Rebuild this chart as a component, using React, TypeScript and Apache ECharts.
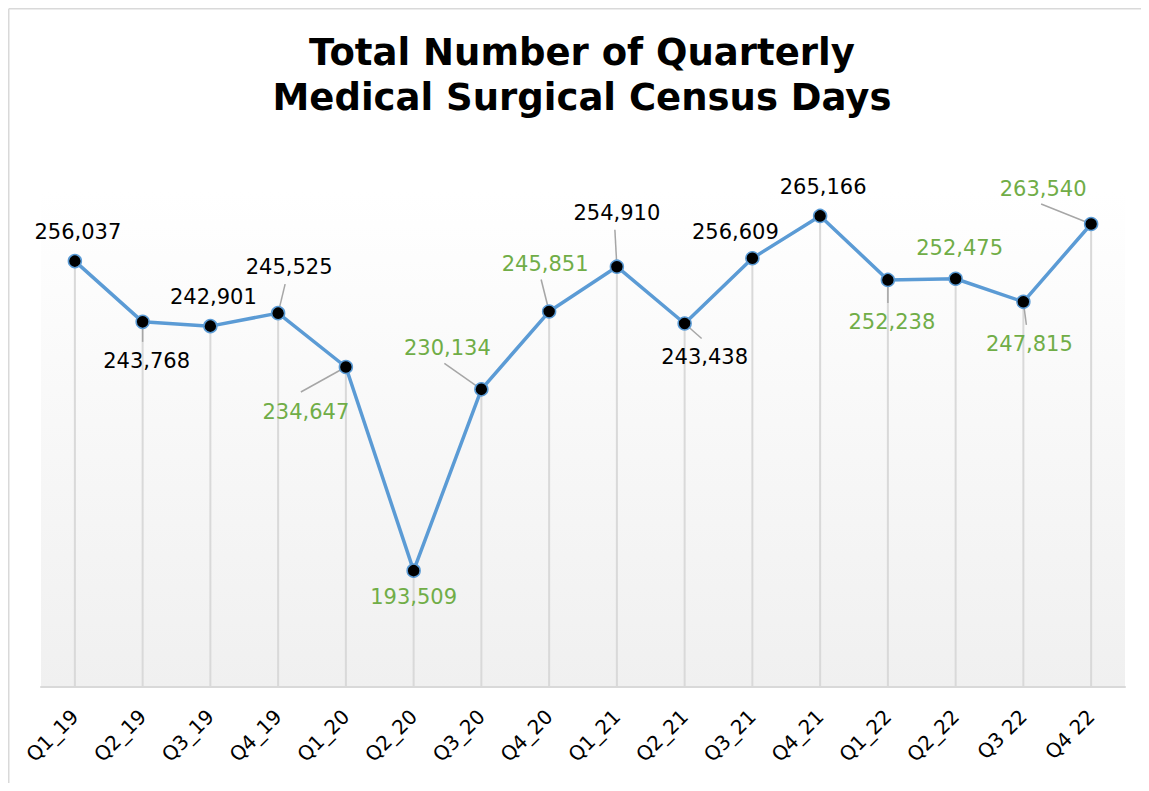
import React, { useEffect, useRef } from 'react';
import * as echarts from 'echarts';

const categories = ['Q1_19', 'Q2_19', 'Q3_19', 'Q4_19', 'Q1_20', 'Q2_20', 'Q3_20', 'Q4_20', 'Q1_21', 'Q2_21', 'Q3_21', 'Q4_21', 'Q1_22', 'Q2_22', 'Q3 22', 'Q4 22'];
const censusDays = [256037, 243768, 242901, 245525, 234647, 193509, 230134, 245851, 254910, 243438, 256609, 265166, 252238, 252475, 247815, 263540];
const greenLabel = [false, false, false, false, true, true, true, true, false, false, false, false, true, true, true, true];
// label centre offset from its point (px)
const labelOffsets: [number, number][] = [
  [3, -29], [4, 39], [3, -29], [11, -46], [-40, 45], [0, 26], [-34, -41], [-4, -48],
  [0, -54], [20, 34], [-17, -26], [3, -29], [4, 42], [4, -31], [6, 42], [-48, -35],
];
// leader line end offset from its point (px), null = no leader
const leaderEnds: ([number, number] | null)[] = [
  null, [0, 20], null, [7, -29], [-45, 25], null, [-37, -26], [-8, -32],
  [-2, -37], [17, 15], null, null, [0, 23], null, [3, 23], [-50, -20],
];

const titleText = 'Total Number of Quarterly\nMedical Surgical Census Days';
const yMin = 170000;
const yMax = 270000;

const FONT = 'DejaVu Sans, Verdana, sans-serif';

export default function App() {
  const ref = useRef<HTMLDivElement>(null);
  useEffect(() => {
    if (!ref.current) return;
    const chart = echarts.init(ref.current, undefined, { renderer: 'svg' });
    const fmt = (v: number) => v.toLocaleString('en-US');
    chart.setOption({
      animation: false,
      backgroundColor: '#FFFFFF',
      title: {
        text: titleText,
        left: 574,
        top: 22,
        padding: 0,
        textAlign: 'center',
        textStyle: {
          fontFamily: FONT,
          fontWeight: 'bold',
          fontSize: 37,
          lineHeight: 45,
          color: '#000000',
        },
      },
      graphic: [
        {
          type: 'line',
          shape: { x1: 0.75, y1: 0.75, x2: 1141, y2: 0.75 },
          style: { stroke: '#D9D9D9', lineWidth: 1.5 },
          silent: true,
        },
        {
          type: 'line',
          shape: { x1: 0.75, y1: 0.75, x2: 0.75, y2: 775 },
          style: { stroke: '#D9D9D9', lineWidth: 1.5 },
          silent: true,
        },
      ],
      grid: {
        left: 33,
        right: 24,
        top: 184,
        bottom: 96,
        show: true,
        borderWidth: 0,
        backgroundColor: new echarts.graphic.LinearGradient(0, 0, 0, 1, [
          { offset: 0, color: '#FFFFFF' },
          { offset: 1, color: '#F0F0F0' },
        ]),
      },
      xAxis: {
        type: 'category',
        data: categories,
        boundaryGap: true,
        axisLine: { show: true, lineStyle: { color: '#D9D9D9', width: 2 } },
        axisTick: { show: false },
        splitLine: { show: false },
        axisLabel: {
          rotate: 45,
          interval: 0,
          margin: 26,
          fontSize: 20,
          fontFamily: FONT,
          color: '#000000',
        },
      },
      yAxis: {
        type: 'value',
        min: yMin,
        max: yMax,
        show: false,
        splitLine: { show: false },
      },
      series: [
        {
          type: 'bar',
          data: censusDays,
          barWidth: 2,
          silent: true,
          itemStyle: { color: '#D9D9D9' },
          z: 1,
        },
        {
          type: 'custom',
          silent: true,
          z: 2,
          data: censusDays.map((v, i) => [i, v]),
          renderItem: (params: any, api: any) => {
            const end = leaderEnds[params.dataIndex];
            if (!end) return null;
            const p = api.coord([api.value(0), api.value(1)]);
            return {
              type: 'line',
              shape: { x1: p[0], y1: p[1], x2: p[0] + end[0], y2: p[1] + end[1] },
              style: { stroke: '#A6A6A6', lineWidth: 1.5 },
            };
          },
        },
        {
          type: 'line',
          data: censusDays.map((v, i) => ({
            value: v,
            label: { color: greenLabel[i] ? '#70AD47' : '#000000' },
          })),
          z: 3,
          symbol: 'circle',
          symbolSize: 13,
          lineStyle: { color: '#5B9BD5', width: 3.5 },
          itemStyle: { color: '#000000', borderColor: '#5B9BD5', borderWidth: 1.5 },
          label: {
            show: true,
            fontSize: 21,
            fontFamily: FONT,
            formatter: (p: any) => fmt(p.value),
          },
          labelLayout: (params: any) => {
            const off = labelOffsets[params.dataIndex];
            const r = params.rect;
            return {
              x: r.x + r.width / 2 + off[0],
              y: r.y + r.height / 2 + off[1],
              align: 'center',
              verticalAlign: 'middle',
            };
          },
        },
      ],
    });
    return () => chart.dispose();
  }, []);
  return <div ref={ref} style={{ width: 1141, height: 775 }} />;
}
